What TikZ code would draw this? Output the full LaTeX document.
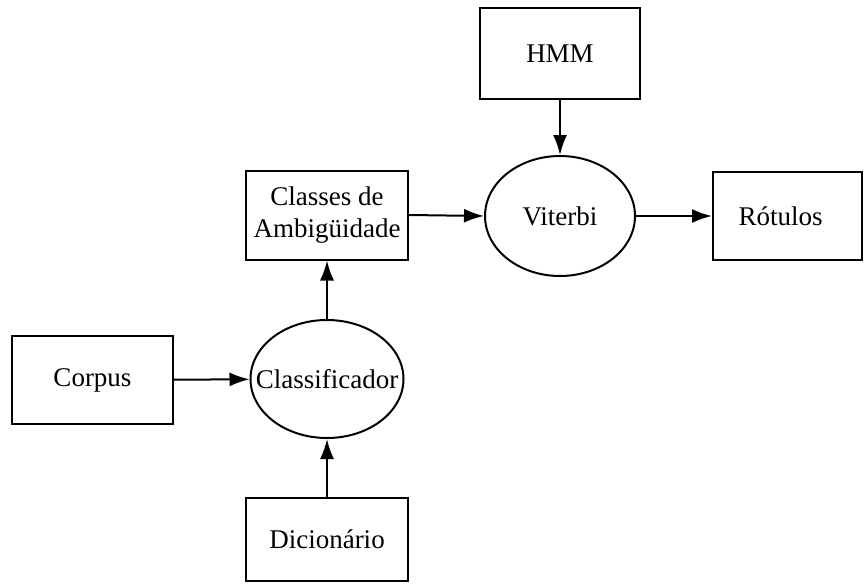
\documentclass[tikz,border=0pt]{standalone}
\usepackage{fontspec}
\setmainfont{Liberation Serif}
\usetikzlibrary{arrows.meta,shapes.geometric}
\begin{document}
\begin{tikzpicture}[x=1pt,y=-1pt,
  every node/.style={font=\fontsize{27}{32}\selectfont, align=center, inner sep=0pt},
  blockbox/.style={rectangle, draw=black, line width=2pt},
  procnode/.style={ellipse, draw=black, line width=2pt},
  flow/.style={line width=2pt, -{Latex[length=20pt,width=14pt]}}]
\useasboundingbox (0,0) rectangle (864,586);
\node[blockbox, minimum width=160pt, minimum height=91pt] (hmm) at (560,53.5) {HMM};
\node[blockbox, minimum width=162pt, minimum height=89pt] (classes) at (327,215) {Classes de\\Ambigüidade};
\node[procnode, minimum width=150pt, minimum height=120pt] (viterbi) at (560,216) {Viterbi};
\node[blockbox, minimum width=149pt, minimum height=88pt] (rotulos) at (787.5,216) {\hspace*{-14pt}Rótulos};
\node[blockbox, minimum width=161pt, minimum height=88pt] (corpus) at (92.5,380) {Corpus};
% the label is wider than the ellipse, so the outline and the text are separate
\node[procnode, minimum width=153pt, minimum height=118pt] (classif) at (327,379) {};
\node (classiftext) at (classif.center) {Classificador};
\node[blockbox, minimum width=162pt, minimum height=83pt] (dic) at (327,539) {Dicionário};
\draw[flow] (hmm) -- (viterbi);
\draw[flow] (classes.east) -- (viterbi.west);
\draw[flow] (viterbi) -- (rotulos);
\draw[flow] (corpus) -- (classif);
\draw[flow] (classif) -- (classes);
\draw[flow] (dic) -- (classif);
\end{tikzpicture}
\end{document}
